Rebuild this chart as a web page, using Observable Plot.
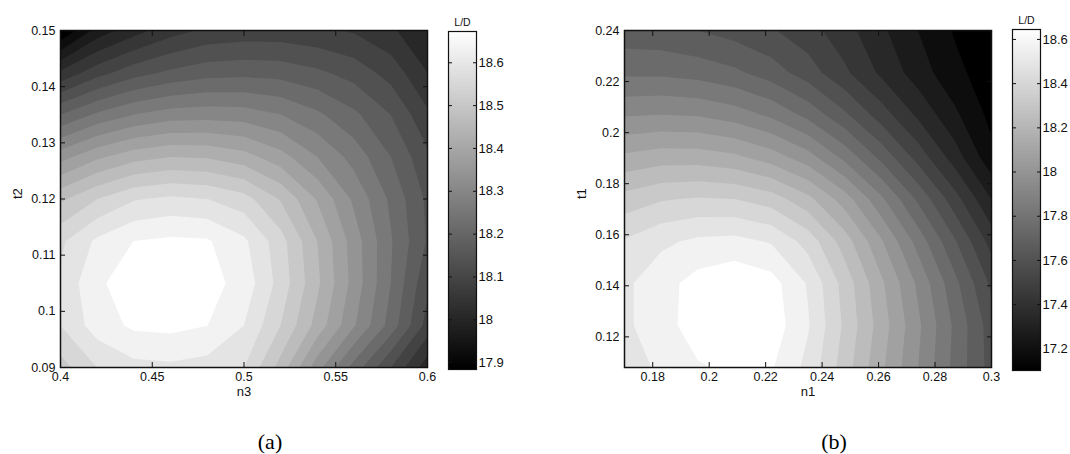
<!DOCTYPE html>
<html><head><meta charset="utf-8">
<script src="https://cdn.jsdelivr.net/npm/d3@7"></script>
<script src="https://cdn.jsdelivr.net/npm/@observablehq/plot@0.6"></script>
<style>
body{margin:0;background:#fff;}
#root{position:relative;width:1070px;height:454px;overflow:hidden;background:#fff;}
#root svg{position:absolute;overflow:visible;}
.cap{position:absolute;font-family:"Liberation Serif","Times New Roman",serif;font-size:22px;color:#000;transform:translate(-50%,-50%);white-space:nowrap;}
</style></head><body><div id="root"></div>
<script>
// ---- Panel (a): L/D over n3 (x) and t2 (y); rows follow t2 (bottom to top) ----
const n3 = [0.40, 0.42, 0.44, 0.46, 0.48, 0.50, 0.52, 0.54, 0.56, 0.58, 0.60];
const t2 = [0.09, 0.0975, 0.105, 0.1125, 0.12, 0.1275, 0.135, 0.1425, 0.15];
const ldA = [
  [18.499, 18.555, 18.582, 18.586, 18.578, 18.555, 18.460, 18.334, 18.223, 18.121, 18.018],
  [18.555, 18.614, 18.641, 18.645, 18.634, 18.594, 18.515, 18.421, 18.322, 18.223, 18.105],
  [18.563, 18.626, 18.657, 18.673, 18.649, 18.618, 18.539, 18.444, 18.342, 18.239, 18.129],
  [18.547, 18.602, 18.634, 18.641, 18.638, 18.602, 18.531, 18.436, 18.338, 18.243, 18.156],
  [18.468, 18.515, 18.551, 18.563, 18.555, 18.531, 18.472, 18.393, 18.310, 18.231, 18.152],
  [18.342, 18.389, 18.421, 18.436, 18.432, 18.413, 18.373, 18.318, 18.263, 18.200, 18.129],
  [18.200, 18.247, 18.279, 18.298, 18.302, 18.298, 18.279, 18.247, 18.208, 18.160, 18.089],
  [18.050, 18.105, 18.144, 18.168, 18.184, 18.188, 18.184, 18.168, 18.144, 18.105, 18.042],
  [17.884, 17.979, 18.026, 18.065, 18.089, 18.097, 18.097, 18.089, 18.077, 18.050, 18.002]
];
const n3Domain = [0.4, 0.6];
const t2Domain = [0.09, 0.15];
const n3Ticks = [0.4, 0.45, 0.5, 0.55, 0.6];
const t2Ticks = [0.09, 0.1, 0.11, 0.12, 0.13, 0.14, 0.15];
const cbTicksA = [17.9, 18, 18.1, 18.2, 18.3, 18.4, 18.5, 18.6];

// ---- Panel (b): L/D over n1 (x) and t1 (y); rows follow t1 (bottom to top) ----
const n1 = [0.170, 0.183, 0.196, 0.209, 0.222, 0.235, 0.248, 0.261, 0.274, 0.287, 0.300];
const t1 = [0.108, 0.1245, 0.141, 0.1575, 0.174, 0.1905, 0.207, 0.2235, 0.24];
const ldB = [
  [18.429, 18.514, 18.560, 18.583, 18.576, 18.468, 18.298, 18.120, 17.951, 17.773, 17.611],
  [18.475, 18.537, 18.606, 18.645, 18.614, 18.498, 18.321, 18.144, 17.966, 17.781, 17.603],
  [18.475, 18.537, 18.599, 18.630, 18.599, 18.483, 18.306, 18.120, 17.935, 17.742, 17.549],
  [18.421, 18.475, 18.506, 18.514, 18.483, 18.383, 18.221, 18.036, 17.843, 17.650, 17.457],
  [18.290, 18.329, 18.344, 18.336, 18.298, 18.205, 18.066, 17.889, 17.704, 17.519, 17.333],
  [18.120, 18.144, 18.144, 18.120, 18.066, 17.982, 17.850, 17.696, 17.534, 17.372, 17.202],
  [17.943, 17.951, 17.943, 17.912, 17.858, 17.773, 17.657, 17.526, 17.395, 17.272, 17.156],
  [17.781, 17.781, 17.765, 17.735, 17.681, 17.603, 17.503, 17.395, 17.295, 17.202, 17.133],
  [17.673, 17.665, 17.642, 17.611, 17.573, 17.519, 17.441, 17.349, 17.256, 17.171, 17.102]
];
const n1Domain = [0.17, 0.3];
const t1Domain = [0.108, 0.24];
const n1Ticks = [0.18, 0.2, 0.22, 0.24, 0.26, 0.28, 0.3];
const t1Ticks = [0.12, 0.14, 0.16, 0.18, 0.2, 0.22, 0.24];
const cbTicksB = [17.2, 17.4, 17.6, 17.8, 18, 18.2, 18.4, 18.6];

const levelCount = 20;

const FONT = '"Liberation Sans", Arial, Helvetica, sans-serif';
const INK = "#111";
const fmt = d => String(+(+d).toFixed(4));

function contourPanel({xs, ys, z, xDomain, yDomain, xTicks, yTicks, xLabel, yLabel}) {
  const nx = xs.length, ny = ys.length;
  const hx = (xs[1] - xs[0]) / 2, hy = (ys[1] - ys[0]) / 2;
  const values = z.flat();
  const [lo, hi] = d3.extent(values);
  const step = (hi - lo) / levelCount;
  const thresholds = d3.range(levelCount).map(k => lo + step * k);
  thresholds[0] = lo - 1;
  return Plot.plot({
    width: 440, height: 410,
    marginLeft: 60, marginRight: 13, marginTop: 30, marginBottom: 43,
    style: {fontFamily: FONT, fontSize: "12.5px", color: INK, background: "transparent"},
    x: {domain: xDomain},
    y: {domain: yDomain},
    color: {type: "linear", domain: [lo, hi - step], range: ["#000", "#fff"], interpolate: "rgb", clamp: true},
    marks: [
      Plot.contour(values, {
        width: nx, height: ny,
        x1: xs[0] - hx, x2: xs[nx - 1] + hx, y1: ys[0] - hy, y2: ys[ny - 1] + hy,
        fill: Plot.identity, thresholds, stroke: "none", clip: true
      }),
      Plot.axisX(xTicks, {anchor: "bottom", tickSize: 0, tickPadding: 5, tickFormat: fmt, label: null, fontSize: 12.5}),
      Plot.axisY(yTicks, {anchor: "left", tickSize: 0, tickPadding: 5, tickFormat: fmt, label: null, fontSize: 12.5}),
      Plot.axisX(xTicks, {anchor: "bottom", tickSize: -5, fill: "none", label: null, strokeWidth: 1}),
      Plot.axisX(xTicks, {anchor: "top", tickSize: -5, fill: "none", label: null, strokeWidth: 1}),
      Plot.axisY(yTicks, {anchor: "left", tickSize: -5, fill: "none", label: null, strokeWidth: 1}),
      Plot.axisY(yTicks, {anchor: "right", tickSize: -5, fill: "none", label: null, strokeWidth: 1}),
      Plot.frame({stroke: INK, strokeWidth: 1.5}),
      Plot.text([xLabel], {text: d => d, frameAnchor: "bottom", dy: 28, fontSize: 13, fill: INK}),
      Plot.text([yLabel], {text: d => d, frameAnchor: "left", dx: -43, rotate: -90, fontSize: 13, fill: INK})
    ]
  });
}

function colorbar({z, ticks, top, bottom}) {
  const [lo, hi] = d3.extent(z.flat());
  return Plot.plot({
    width: 90, height: 400,
    marginLeft: 28, marginRight: 34, marginTop: top, marginBottom: 400 - bottom,
    style: {fontFamily: FONT, fontSize: "13px", color: INK, background: "transparent"},
    x: {domain: [0, 1], axis: null},
    y: {domain: [lo, hi]},
    color: {type: "linear", domain: [lo, hi], range: ["#000", "#fff"], interpolate: "rgb"},
    marks: [
      Plot.raster({fill: (x, y) => y, x1: 0, x2: 1, y1: lo, y2: hi, pixelSize: 1}),
      Plot.axisY(ticks, {anchor: "right", tickSize: 0, tickPadding: 2, tickFormat: fmt, label: null, fontSize: 13}),
      Plot.axisY(ticks, {anchor: "right", tickSize: -4, fill: "none", label: null}),
      Plot.axisY(ticks, {anchor: "left", tickSize: -4, fill: "none", label: null}),
      Plot.frame({stroke: INK, strokeWidth: 1.2}),
      Plot.text(["L/D"], {text: d => d, frameAnchor: "top", dy: -13, fontSize: 10.5, fill: INK})
    ]
  });
}

const root = document.getElementById("root");
function place(node, left, top) {
  node.style.left = left + "px";
  node.style.top = top + "px";
  root.appendChild(node);
}

place(contourPanel({xs: n3, ys: t2, z: ldA, xDomain: n3Domain, yDomain: t2Domain,
  xTicks: n3Ticks, yTicks: t2Ticks, xLabel: "n3", yLabel: "t2"}), 0, 0);
place(colorbar({z: ldA, ticks: cbTicksA, top: 31, bottom: 369}), 420, 0);

place(contourPanel({xs: n1, ys: t1, z: ldB, xDomain: n1Domain, yDomain: t1Domain,
  xTicks: n1Ticks, yTicks: t1Ticks, xLabel: "n1", yLabel: "t1"}), 564, 0);
place(colorbar({z: ldB, ticks: cbTicksB, top: 29, bottom: 370}), 984, 0);

const capA = document.createElement("div");
capA.className = "cap"; capA.textContent = "(a)";
capA.style.left = "270px"; capA.style.top = "442px";
root.appendChild(capA);
const capB = document.createElement("div");
capB.className = "cap"; capB.textContent = "(b)";
capB.style.left = "834px"; capB.style.top = "442px";
root.appendChild(capB);
</script></body></html>
